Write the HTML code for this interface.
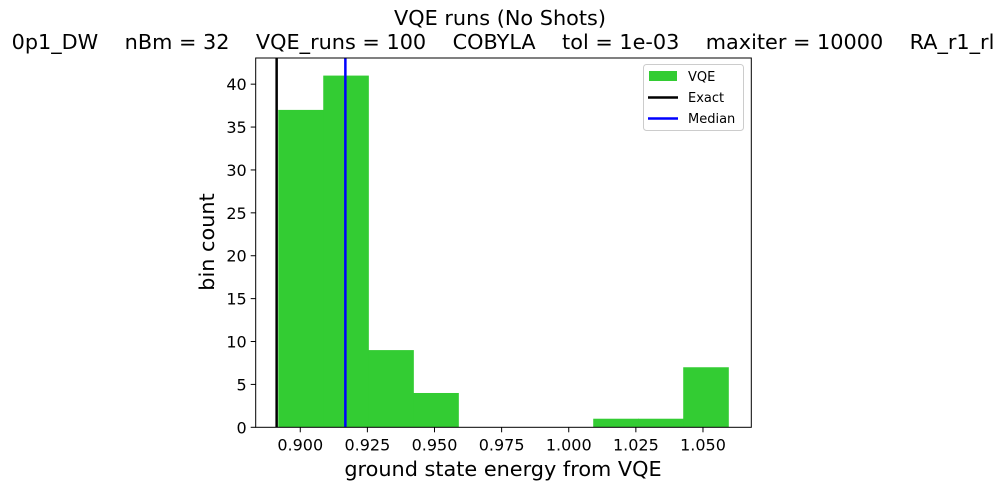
<!DOCTYPE html>
<html><head><meta charset="utf-8"><style>
html,body{margin:0;padding:0;background:#fff;overflow:hidden;}
svg{display:block;font-family:"DejaVu Sans","Liberation Sans",sans-serif;}
</style></head><body>
<svg id="chart" width="1005" height="490" viewBox="0 0 1005 490">
<rect width="1005" height="490" fill="#fff"/>
<text x="500" y="25" font-size="20.8" text-anchor="middle">VQE runs (No Shots)</text>
<text x="503" y="49" font-size="20.8" text-anchor="middle" xml:space="preserve">0p1_DW    nBm = 32    VQE_runs = 100    COBYLA    tol = 1e-03    maxiter = 10000    RA_r1_rl</text>
<g id="plot"></g>
<text x="503" y="476" font-size="20.8" text-anchor="middle">ground state energy from VQE</text>
<text transform="translate(214,242) rotate(-90)" font-size="20.8" text-anchor="middle">bin count</text>
<g>
<rect x="643.5" y="64.5" width="100" height="66" rx="3" fill="#fff" fill-opacity="0.8" stroke="#ccc"/>
<rect x="649" y="71" width="28" height="10" fill="#33cc33"/>
<text x="688" y="81" font-size="13">VQE</text>
<line x1="648" y1="97.5" x2="678" y2="97.5" stroke="#000" stroke-width="2.5"/>
<text x="688" y="102" font-size="13">Exact</text>
<line x1="648" y1="118.5" x2="678" y2="118.5" stroke="#0000ff" stroke-width="2.5"/>
<text x="688" y="123" font-size="13">Median</text>
</g>
</svg>
<script>
const binCounts = [37, 41, 9, 4, 0, 0, 0, 1, 1, 7];
const binRange = [0.8918, 1.0594];
const exactValue = [0.8912];
const medianValue = [0.9168];
const xTicks = [0.900, 0.925, 0.950, 0.975, 1.000, 1.025, 1.050];
const xTickLabels = ["0.900","0.925","0.950","0.975","1.000","1.025","1.050"];
const yTicks = [0, 5, 10, 15, 20, 25, 30, 35, 40];
const xDomain = [0.8834, 1.068];
const yDomain = [0, 43.05];

const L = 255.7, R = 751.3, T = 58, B = 427.3;
const NS = "http://www.w3.org/2000/svg";
const g = document.getElementById('plot');
const xs = v => L + (v - xDomain[0]) / (xDomain[1] - xDomain[0]) * (R - L);
const ys = v => B - (v - yDomain[0]) / (yDomain[1] - yDomain[0]) * (B - T);
function mk(tag, attrs) { const e = document.createElementNS(NS, tag); for (const k in attrs) e.setAttribute(k, attrs[k]); g.appendChild(e); return e; }

const bw = (binRange[1] - binRange[0]) / binCounts.length;
binCounts.forEach((c, i) => {
  if (c <= 0) return;
  const x0 = xs(binRange[0] + i * bw), x1 = xs(binRange[0] + (i + 1) * bw);
  const r = mk('rect', {x: x0, y: ys(c), width: x1 - x0 + 0.6, height: ys(0) - ys(c), fill: '#33cc33'});
  
  
});
const ex = mk('line', {x1: xs(exactValue[0]), x2: xs(exactValue[0]), y1: T, y2: B, stroke: '#000', 'stroke-width': 2.5});


const md = mk('line', {x1: xs(medianValue[0]), x2: xs(medianValue[0]), y1: T, y2: B, stroke: '#0000ff', 'stroke-width': 2.5});



const frame = mk('rect', {x: L, y: T, width: R - L, height: B - T, fill: 'none', stroke: '#000', 'stroke-width': 1});



xTicks.forEach((v, i) => {
  const x = xs(v);
  const t = mk('line', {x1: x, x2: x, y1: B, y2: B + 5, stroke: '#000'});
  
  
  const lb = mk('text', {x: x, y: B + 23, 'font-size': 16, 'text-anchor': 'middle'});
  lb.textContent = xTickLabels[i];
  
  
});
yTicks.forEach(v => {
  const y = ys(v);
  const t = mk('line', {x1: L - 5, x2: L, y1: y, y2: y, stroke: '#000'});
  
  
  const lb = mk('text', {x: L - 9, y: y + 6, 'font-size': 16, 'text-anchor': 'end'});
  lb.textContent = String(v);
  
  
});
</script>
</body></html>
